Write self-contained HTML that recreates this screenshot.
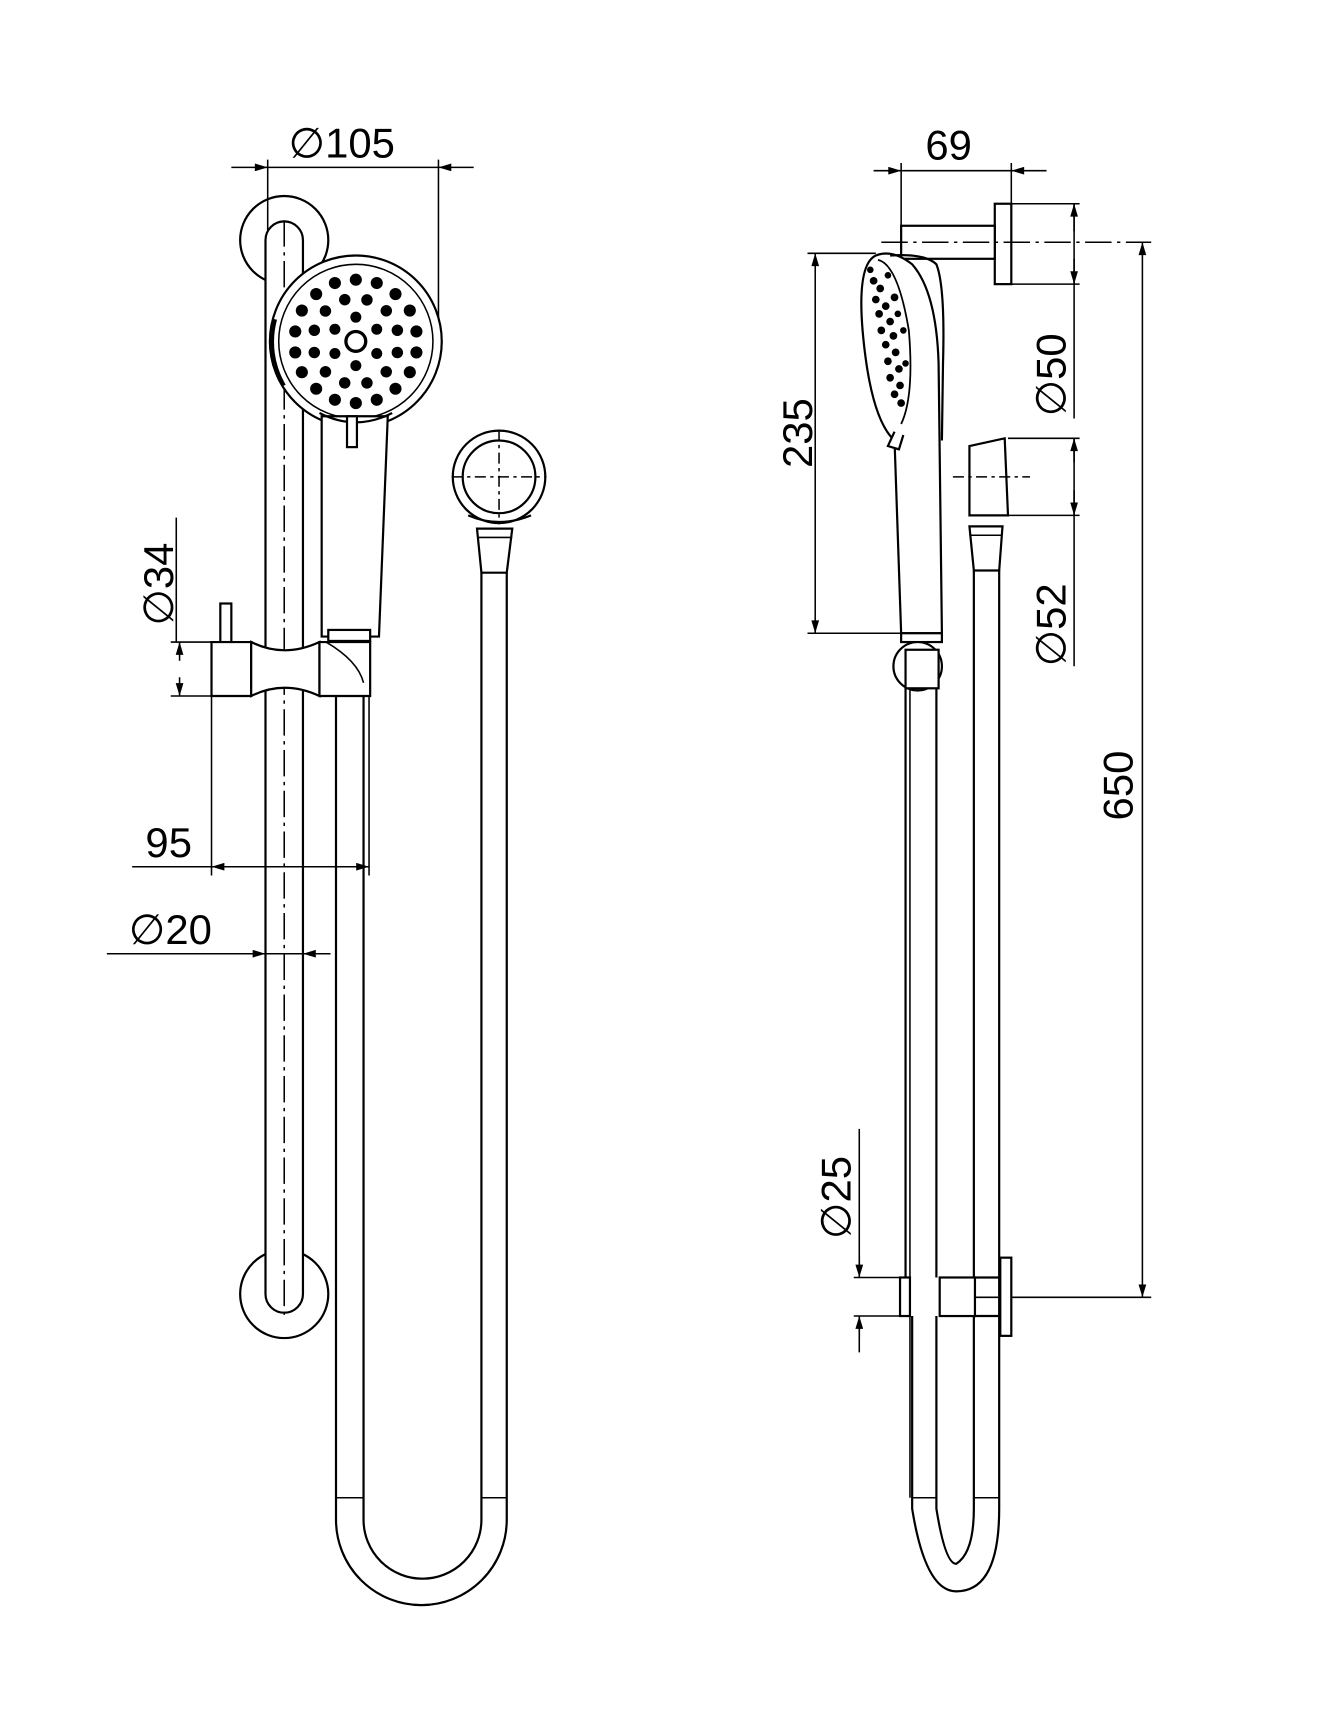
<!DOCTYPE html>
<html><head><meta charset="utf-8"><style>html,body{margin:0;padding:0;background:#fff}svg{display:block}</style></head>
<body>
<svg width="1344" height="1718" viewBox="0 0 1220 1560" preserveAspectRatio="none" xmlns="http://www.w3.org/2000/svg">
<defs>
<marker id="a" viewBox="0 0 10 6" refX="10" refY="3" markerWidth="14" markerHeight="7" orient="auto-start-reverse" markerUnits="userSpaceOnUse"><path d="M0,0 L10,3 L0,6z" fill="#000"/></marker>
</defs>
<g fill="none" stroke="#000" stroke-width="1.4">
<line x1="210" y1="152" x2="243" y2="152" marker-end="url(#a)"/>
<line x1="243" y1="152" x2="398" y2="152"/>
<line x1="430" y1="152" x2="398" y2="152" marker-end="url(#a)"/>
<line x1="243" y1="145" x2="243" y2="305"/>
<line x1="398" y1="145" x2="398" y2="305"/>
<circle cx="258" cy="218" r="40" stroke-width="2"/>
<circle cx="258" cy="1175" r="40" stroke-width="2"/>
<path d="M241,1175 L241,218 A17,17 0 0 1 275,218 L275,1175 A17,17 0 0 1 241,1175z" stroke-width="2" fill="#fff"/>
<line x1="258" y1="200" x2="258" y2="1195" stroke-dasharray="24,5,3,5"/>
<circle cx="323" cy="310" r="78" stroke-width="2" fill="#fff"/>
<circle cx="323" cy="310" r="70" stroke-width="1.4"/>
<path d="M250,290 A78,78 0 0 0 258,350" stroke-width="3"/>
<circle cx="323" cy="310" r="9" stroke-width="3"/>
<path d="M292,378 L352,378 L344,578 L292,578z" stroke-width="2" fill="#fff"/>
<path d="M290,375 Q323,392 356,375" stroke-width="2"/>
<rect x="315" y="378" width="9" height="28" stroke-width="2" fill="#fff"/>
<rect x="298" y="572" width="38" height="10" stroke-width="2" fill="#fff"/>
<rect x="200" y="548" width="10" height="35" stroke-width="2" fill="#fff"/>
<path d="M192,583 L228,583 L228,632 L192,632z" stroke-width="2" fill="#fff"/>
<path d="M228,583 Q258,598 290,583 L290,632 Q258,617 228,632z" stroke-width="2" fill="#fff"/>
<path d="M290,583 L336,583 L336,632 L290,632z" stroke-width="2" fill="#fff"/>
<path d="M296,583 Q325,600 330,620" stroke-width="1.4"/>
<path d="M305,632 L305,1380 A77,77 0 0 0 460,1380 L460,520" stroke-width="2"/>
<path d="M330,632 L330,1380 A53,53 0 0 0 437,1380 L437,520" stroke-width="2"/>
<line x1="305" y1="1360" x2="330" y2="1360"/>
<line x1="437" y1="1360" x2="460" y2="1360"/>
<path d="M437,520 L433,480 L465,480 L460,520z" stroke-width="2" fill="#fff"/>
<line x1="433" y1="488" x2="465" y2="488"/>
<circle cx="453" cy="433" r="42" stroke-width="2"/>
<circle cx="453" cy="433" r="33" stroke-width="2"/>
<path d="M425,468 Q453,480 482,468" stroke-width="2"/>
<line x1="410" y1="433" x2="496" y2="433" stroke-dasharray="10,4,3,4"/>
<line x1="453" y1="390" x2="453" y2="476" stroke-dasharray="10,4,3,4"/>
<line x1="160" y1="470" x2="160" y2="583"/>
<line x1="155" y1="583" x2="192" y2="583"/>
<line x1="155" y1="632" x2="192" y2="632"/>
<line x1="163" y1="600" x2="163" y2="583" marker-end="url(#a)"/>
<line x1="163" y1="615" x2="163" y2="632" marker-end="url(#a)"/>
<line x1="192" y1="632" x2="192" y2="795"/>
<line x1="335" y1="632" x2="335" y2="795"/>
<line x1="120" y1="787" x2="192" y2="787"/>
<line x1="240" y1="787" x2="192" y2="787" marker-end="url(#a)"/>
<line x1="192" y1="787" x2="335" y2="787"/>
<line x1="290" y1="787" x2="335" y2="787" marker-end="url(#a)"/>
<line x1="97" y1="866" x2="241" y2="866" marker-end="url(#a)"/>
<line x1="241" y1="866" x2="300" y2="866"/>
<line x1="300" y1="866" x2="275" y2="866" marker-end="url(#a)"/>

<line x1="793" y1="155" x2="818" y2="155" marker-end="url(#a)"/>
<line x1="818" y1="155" x2="918" y2="155"/>
<line x1="950" y1="155" x2="918" y2="155" marker-end="url(#a)"/>
<line x1="818" y1="148" x2="818" y2="205"/>
<line x1="918" y1="148" x2="918" y2="185"/>
<rect x="903" y="185" width="15" height="73" stroke-width="2" fill="#fff"/>
<rect x="818" y="205" width="85" height="30" stroke-width="2" fill="#fff"/>
<line x1="800" y1="220" x2="1045" y2="220" stroke-dasharray="24,5,3,5"/>
<line x1="918" y1="185" x2="980" y2="185"/>
<line x1="918" y1="258" x2="980" y2="258"/>
<line x1="975" y1="185" x2="975" y2="380"/>
<line x1="975" y1="210" x2="975" y2="185" marker-end="url(#a)"/>
<line x1="975" y1="235" x2="975" y2="258" marker-end="url(#a)"/>
<line x1="1037" y1="220" x2="1037" y2="1178" marker-start="url(#a)" marker-end="url(#a)"/>
<line x1="855" y1="1178" x2="1045" y2="1178"/>
<line x1="740" y1="230" x2="740" y2="575" marker-start="url(#a)" marker-end="url(#a)"/>
<line x1="733" y1="230" x2="795" y2="230"/>
<line x1="733" y1="575" x2="820" y2="575"/>
<path d="M818,575 L812,400 Q790,380 783,300 Q778,240 795,232 Q810,226 828,240 Q850,265 852,330 L855,575z" stroke-width="2" fill="#fff"/>
<path d="M808,232 Q840,230 850,240 Q858,260 856,330 L855,400" stroke-width="2"/>
<path d="M797,236 Q815,240 825,300 Q830,360 818,385" stroke-width="1.6"/>
<path d="M812,392 L806,405 L816,408 L820,395" stroke-width="2" fill="#fff"/>
<g fill="#000" stroke="none">
<circle cx="793" cy="255" r="3.5"/><circle cx="799" cy="262" r="3.5"/><circle cx="795" cy="272" r="3.5"/><circle cx="804" cy="278" r="3.5"/><circle cx="798" cy="285" r="3.5"/><circle cx="808" cy="292" r="3.5"/><circle cx="800" cy="300" r="3.5"/><circle cx="811" cy="305" r="3.5"/><circle cx="804" cy="313" r="3.5"/><circle cx="813" cy="320" r="3.5"/><circle cx="806" cy="328" r="3.5"/><circle cx="816" cy="335" r="3.5"/><circle cx="808" cy="343" r="3.5"/><circle cx="817" cy="350" r="3.5"/><circle cx="812" cy="358" r="3.5"/><circle cx="818" cy="366" r="3.5"/><circle cx="790" cy="245" r="3"/><circle cx="812" cy="270" r="3.5"/><circle cx="820" cy="300" r="3"/><circle cx="822" cy="330" r="3"/><circle cx="806" cy="250" r="3"/><circle cx="815" cy="285" r="3"/>
</g>
<rect x="818" y="575" width="37" height="8" stroke-width="2" fill="#fff"/>
<circle cx="833" cy="605" r="22" stroke-width="2" fill="#fff"/>
<rect x="822" y="590" width="30" height="35" stroke-width="2" fill="#fff"/>
<line x1="822" y1="625" x2="822" y2="1160" stroke-width="2"/>
<line x1="850" y1="625" x2="850" y2="1160" stroke-width="2"/>
<line x1="826" y1="625" x2="826" y2="1360"/>
<path d="M828,1195 L828,1370 Q840,1445 868,1445 Q907,1445 907,1370 L907,518" stroke-width="2"/>
<path d="M850,1195 L850,1370 Q858,1420 868,1420 Q884,1410 884,1370 L884,518" stroke-width="2"/>
<line x1="828" y1="1360" x2="850" y2="1360"/>
<line x1="884" y1="1360" x2="907" y2="1360"/>
<path d="M884,518 L880,478 L910,478 L907,518z" stroke-width="2" fill="#fff"/>
<line x1="880" y1="486" x2="910" y2="486"/>
<path d="M880,405 L912,398 L915,468 L880,468z" stroke-width="2" fill="#fff"/>
<line x1="865" y1="433" x2="935" y2="433" stroke-dasharray="10,4,3,4"/>
<line x1="915" y1="398" x2="980" y2="398"/>
<line x1="915" y1="468" x2="980" y2="468"/>
<line x1="975" y1="398" x2="975" y2="605"/>
<line x1="975" y1="420" x2="975" y2="398" marker-end="url(#a)"/>
<line x1="975" y1="445" x2="975" y2="468" marker-end="url(#a)"/>
<rect x="817" y="1160" width="9" height="35" stroke-width="2" fill="#fff"/>
<rect x="853" y="1160" width="32" height="35" stroke-width="2" fill="#fff"/>
<rect x="908" y="1142" width="10" height="71" stroke-width="2" fill="#fff"/>
<line x1="885" y1="1160" x2="908" y2="1160" stroke-width="2"/>
<line x1="885" y1="1195" x2="908" y2="1195" stroke-width="2"/>
<line x1="775" y1="1160" x2="817" y2="1160"/>
<line x1="775" y1="1195" x2="817" y2="1195"/>
<line x1="780" y1="1025" x2="780" y2="1160"/>
<line x1="780" y1="1140" x2="780" y2="1160" marker-end="url(#a)"/>
<line x1="780" y1="1215" x2="780" y2="1195" marker-end="url(#a)"/>
<line x1="780" y1="1195" x2="780" y2="1228"/>
</g>
<g fill="#000">
<circle cx="323" cy="288" r="5"/><circle cx="342" cy="299" r="5"/><circle cx="342" cy="321" r="5"/><circle cx="323" cy="332" r="5"/><circle cx="304" cy="321" r="5"/><circle cx="304" cy="299" r="5"/>
<g transform="rotate(15 323 310)">
<circle cx="323" cy="271" r="5.2"/><circle cx="342.5" cy="276" r="5.2"/><circle cx="356.8" cy="290.5" r="5.2"/><circle cx="362" cy="310" r="5.2"/><circle cx="356.8" cy="329.5" r="5.2"/><circle cx="342.5" cy="343.8" r="5.2"/><circle cx="323" cy="349" r="5.2"/><circle cx="303.5" cy="343.8" r="5.2"/><circle cx="289.2" cy="329.5" r="5.2"/><circle cx="284" cy="310" r="5.2"/><circle cx="289.2" cy="290.5" r="5.2"/><circle cx="303.5" cy="276" r="5.2"/>
</g>
<circle cx="323" cy="254" r="5.5"/><circle cx="342" cy="257" r="5.5"/><circle cx="359" cy="267" r="5.5"/><circle cx="372" cy="282" r="5.5"/><circle cx="378" cy="301" r="5.5"/><circle cx="378" cy="320" r="5.5"/><circle cx="372" cy="338" r="5.5"/><circle cx="359" cy="353" r="5.5"/><circle cx="342" cy="363" r="5.5"/><circle cx="323" cy="366" r="5.5"/><circle cx="304" cy="363" r="5.5"/><circle cx="287" cy="353" r="5.5"/><circle cx="274" cy="338" r="5.5"/><circle cx="268" cy="320" r="5.5"/><circle cx="268" cy="301" r="5.5"/><circle cx="274" cy="282" r="5.5"/><circle cx="287" cy="267" r="5.5"/><circle cx="304" cy="257" r="5.5"/>
</g>
<g font-family="Liberation Sans, DejaVu Sans, sans-serif" font-size="38" fill="#000">
<text x="262" y="143">∅105</text>
<text x="132" y="778">95</text>
<text x="117" y="857">∅20</text>
<text transform="translate(157,568) rotate(-90)">∅34</text>
<text x="840" y="145">69</text>
<text transform="translate(967,378) rotate(-90)">∅50</text>
<text transform="translate(967,605) rotate(-90)">∅52</text>
<text transform="translate(737,425) rotate(-90)">235</text>
<text transform="translate(1028,745) rotate(-90)">650</text>
<text transform="translate(772,1125) rotate(-90)">∅25</text>
</g>
</svg>
</body></html>
